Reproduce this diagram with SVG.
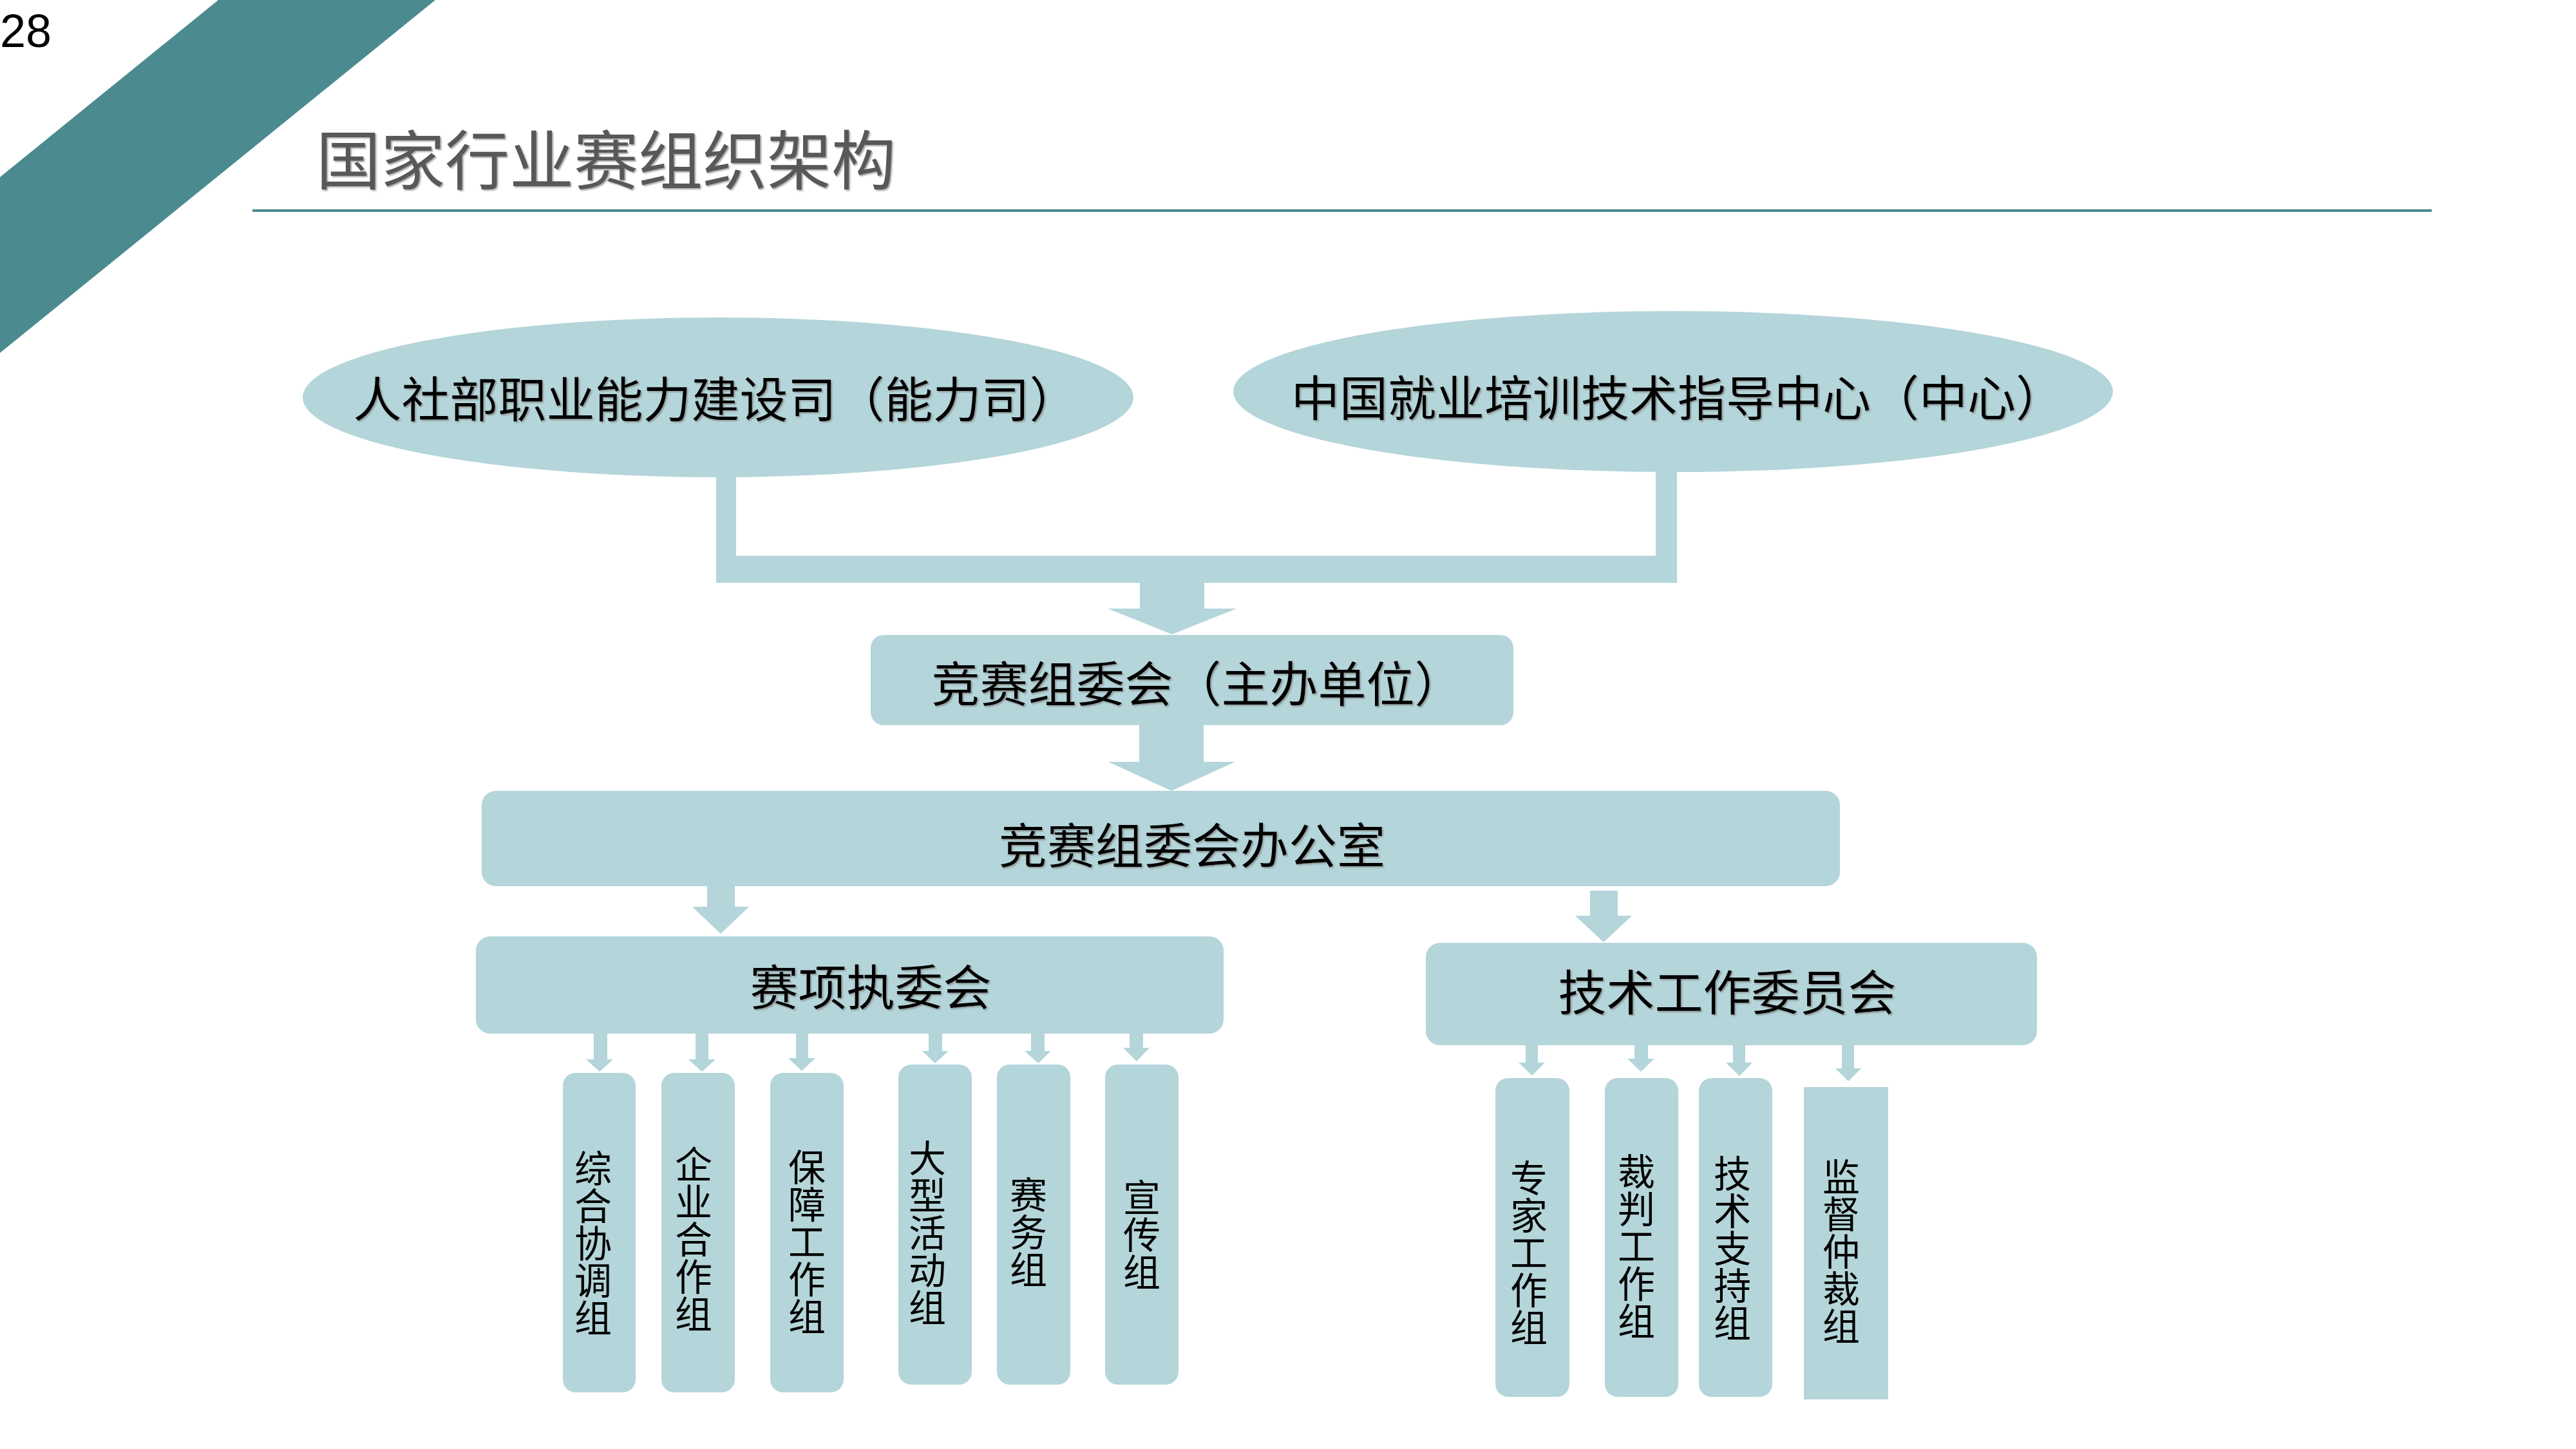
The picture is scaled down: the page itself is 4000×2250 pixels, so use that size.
<svg xmlns="http://www.w3.org/2000/svg" width="4000" height="2250" viewBox="0 0 4000 2250">
<defs>
<filter id="ts" x="-5%" y="-20%" width="110%" height="140%">
<feDropShadow dx="2" dy="2" stdDeviation="1" flood-color="#7f7f7f" flood-opacity="0.7"/>
</filter>
<style>
.shape{fill:#B4D5D9;}
.cjk{font-family:"Noto Sans CJK SC","Noto Sans",sans-serif;fill:#000;}
.mid{text-anchor:middle;}
.lbl{font-size:75px;filter:url(#ts);}
.col{font-size:58px;text-anchor:middle;writing-mode:vertical-rl;}
</style>
</defs>
<rect width="4000" height="2250" fill="#fff"/>
<polygon points="339,0 676,0 0,548 0,275" fill="#4B8B90"/>
<text x="0" y="73" font-family="Liberation Sans, Arial, sans-serif" font-size="72" fill="#000">28</text>
<text x="491" y="286" class="cjk" font-size="100" style="fill:#595959" filter="url(#ts)">国家行业赛组织架构</text>
<line x1="392" y1="327" x2="3776" y2="327" stroke="#4B8B90" stroke-width="4"/>

<g id="connectors" class="shape">
<rect x="1112" y="741" width="31" height="140"/>
<rect x="2571" y="732" width="33" height="150"/>
<rect x="1112" y="863" width="1492" height="42"/>
<polygon points="1770,904 1870,904 1870,945 1920,945 1820,985 1720,945 1770,945"/>
<polygon points="1769,1125 1869,1125 1869,1183 1918,1183 1819,1228 1721,1183 1769,1183"/>
<polygon points="1098,1375 1141,1375 1141,1408 1163,1408 1119,1450 1075,1408 1098,1408"/>
<polygon points="2469,1383 2512,1383 2512,1422 2534,1422 2490,1463 2446,1422 2469,1422"/>
<polygon points="922,1604 943,1604 943,1645 952,1645 931,1664 910,1645 922,1645"/>
<polygon points="1080,1604 1100,1604 1100,1645 1111,1645 1090,1664 1069,1645 1080,1645"/>
<polygon points="1236,1604 1255,1604 1255,1643 1266,1643 1245,1663 1224,1643 1236,1643"/>
<polygon points="1442,1604 1463,1604 1463,1632 1473,1632 1452,1651 1432,1632 1442,1632"/>
<polygon points="1601,1604 1622,1604 1622,1632 1632,1632 1612,1651 1591,1632 1601,1632"/>
<polygon points="1754,1604 1775,1604 1775,1627 1785,1627 1765,1648 1744,1627 1754,1627"/>
<polygon points="2369,1622 2388,1622 2388,1650 2399,1650 2379,1670 2358,1650 2369,1650"/>
<polygon points="2538,1622 2559,1622 2559,1644 2569,1644 2548,1664 2527,1644 2538,1644"/>
<polygon points="2691,1622 2710,1622 2710,1650 2721,1650 2701,1671 2680,1650 2691,1650"/>
<polygon points="2860,1622 2879,1622 2879,1659 2890,1659 2870,1679 2850,1659 2860,1659"/>
</g>

<g id="node-nengli">
<ellipse class="shape" cx="1115" cy="617" rx="645" ry="124"/>
<text class="cjk mid lbl" x="1111" y="648">人社部职业能力建设司（能力司）</text>
</g>
<g id="node-zhongxin">
<ellipse class="shape" cx="2598" cy="608" rx="683" ry="125"/>
<text class="cjk mid lbl" x="2605" y="646">中国就业培训技术指导中心（中心）</text>
</g>
<g id="node-zuwei">
<rect class="shape" x="1352" y="986" width="998" height="140" rx="20"/>
<text class="cjk mid lbl" x="1859" y="1090">竞赛组委会（主办单位）</text>
</g>
<g id="node-office">
<rect class="shape" x="748" y="1228" width="2109" height="148" rx="22"/>
<text class="cjk mid lbl" x="1851" y="1341" font-size="78">竞赛组委会办公室</text>
</g>
<g id="node-zhiwei">
<rect class="shape" x="739" y="1454" width="1161" height="151" rx="22"/>
<text class="cjk mid lbl" x="1352" y="1561" font-size="78">赛项执委会</text>
</g>
<g id="node-jishu">
<rect class="shape" x="2214" y="1464" width="949" height="159" rx="22"/>
<text class="cjk mid lbl" x="2682" y="1569" font-size="78">技术工作委员会</text>
</g>

<g id="node-zonghe">
<rect class="shape" x="874" y="1666" width="113" height="496" rx="20"/>
<text class="cjk col" x="921" y="1930">综合协调组</text>
</g>
<g id="node-qiye">
<rect class="shape" x="1027" y="1666" width="114" height="496" rx="20"/>
<text class="cjk col" x="1077" y="1924">企业合作组</text>
</g>
<g id="node-baozhang">
<rect class="shape" x="1196" y="1666" width="114" height="496" rx="20"/>
<text class="cjk col" x="1253" y="1928">保障工作组</text>
</g>
<g id="node-dahuodong">
<rect class="shape" x="1395" y="1653" width="114" height="497" rx="20"/>
<text class="cjk col" x="1440" y="1914">大型活动组</text>
</g>
<g id="node-saiwu">
<rect class="shape" x="1548" y="1653" width="114" height="497" rx="20"/>
<text class="cjk col" x="1597" y="1913">赛务组</text>
</g>
<g id="node-xuanchuan">
<rect class="shape" x="1716" y="1653" width="114" height="497" rx="20"/>
<text class="cjk col" x="1773" y="1917">宣传组</text>
</g>

<g id="node-zhuanjia">
<rect class="shape" x="2322" y="1674" width="115" height="495" rx="20"/>
<text class="cjk col" x="2374" y="1945">专家工作组</text>
</g>
<g id="node-caipan">
<rect class="shape" x="2492" y="1674" width="114" height="495" rx="20"/>
<text class="cjk col" x="2541" y="1935">裁判工作组</text>
</g>
<g id="node-zhichi">
<rect class="shape" x="2638" y="1674" width="114" height="495" rx="20"/>
<text class="cjk col" x="2690" y="1938">技术支持组</text>
</g>
<g id="node-jiandu">
<rect class="shape" x="2801" y="1688" width="131" height="485"/>
<text class="cjk col" x="2859" y="1943">监督仲裁组</text>
</g>
</svg>
